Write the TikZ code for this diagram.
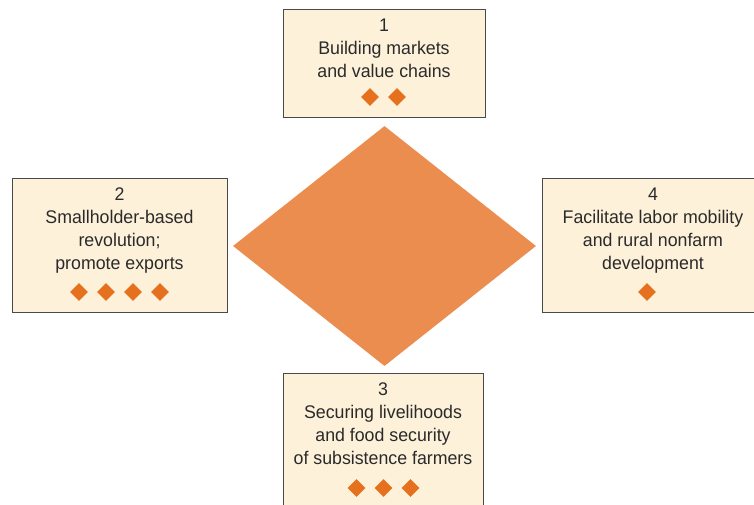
\documentclass[tikz,border=0pt]{standalone}
\usepackage{fontspec}
\setmainfont{Liberation Sans}[FakeStretch=0.97]
\usepackage{tikz}
\usetikzlibrary{shapes.geometric,positioning}

\definecolor{cream}{HTML}{FEF1DA}
\definecolor{coreorange}{HTML}{EB8D4E}
\definecolor{gemorange}{HTML}{E5701E}
\definecolor{framegray}{HTML}{4A4A4A}
\definecolor{inkgray}{HTML}{2A2A2A}

\tikzset{
  pillar/.style={draw=framegray, line width=0.9pt, fill=cream, inner sep=0pt},
  caption/.style={text=inkgray, align=center, inner sep=0pt,
    font=\fontsize{18.3}{23}\selectfont},
  gem/.style={diamond, fill=gemorange, minimum size=18pt, inner sep=0pt}
}

% row of small diamonds under a caption
\newcommand{\gemrow}[3]{%
  \foreach \k in {1,...,#2}
    \node[gem] (#1-\k) at ([xshift={(\k-(#2+1)/2)*27pt}]#3) {};
}

\begin{document}
\begin{tikzpicture}[x=1pt, y=-1pt]
  \useasboundingbox (0,0) rectangle (754,504);

  % central diamond
  \node[diamond, fill=coreorange, minimum width=303pt, minimum height=240pt,
        inner sep=0pt] (core) at (384.5,246) {};

  % the four boxes
  \node[pillar, minimum width=202pt, minimum height=108pt] (p1) at (384,63) {};
  \node[pillar, minimum width=215pt, minimum height=134pt] (p2) at (119.5,245) {};
  \node[pillar, minimum width=222pt, minimum height=134pt] (p4) at (653,245) {};
  \node[pillar, minimum width=200pt, minimum height=150pt] (p3) at (383,448) {};

  % captions
  \node[caption, anchor=north] (t1) at ([yshift=-10pt]p1.north)
    {1\\Building markets\\and value chains};
  \node[caption, anchor=north] (t2) at ([yshift=-10pt]p2.north)
    {2\\Smallholder-based\\revolution;\\promote exports};
  \node[caption, anchor=north] (t4) at ([yshift=-10pt]p4.north)
    {4\\Facilitate labor mobility\\and rural nonfarm\\development};
  \node[caption, anchor=north] (t3) at ([yshift=-10pt]p3.north)
    {3\\Securing livelihoods\\and food security\\of subsistence farmers};

  % diamonds
  \coordinate (g1) at (383.5,97);
  \coordinate (g2) at (119.5,292);
  \coordinate (g4) at (647,292);
  \coordinate (g3) at (383.5,488);
  \gemrow{d1}{2}{g1}
  \gemrow{d2}{4}{g2}
  \gemrow{d4}{1}{g4}
  \gemrow{d3}{3}{g3}
\end{tikzpicture}
\end{document}
